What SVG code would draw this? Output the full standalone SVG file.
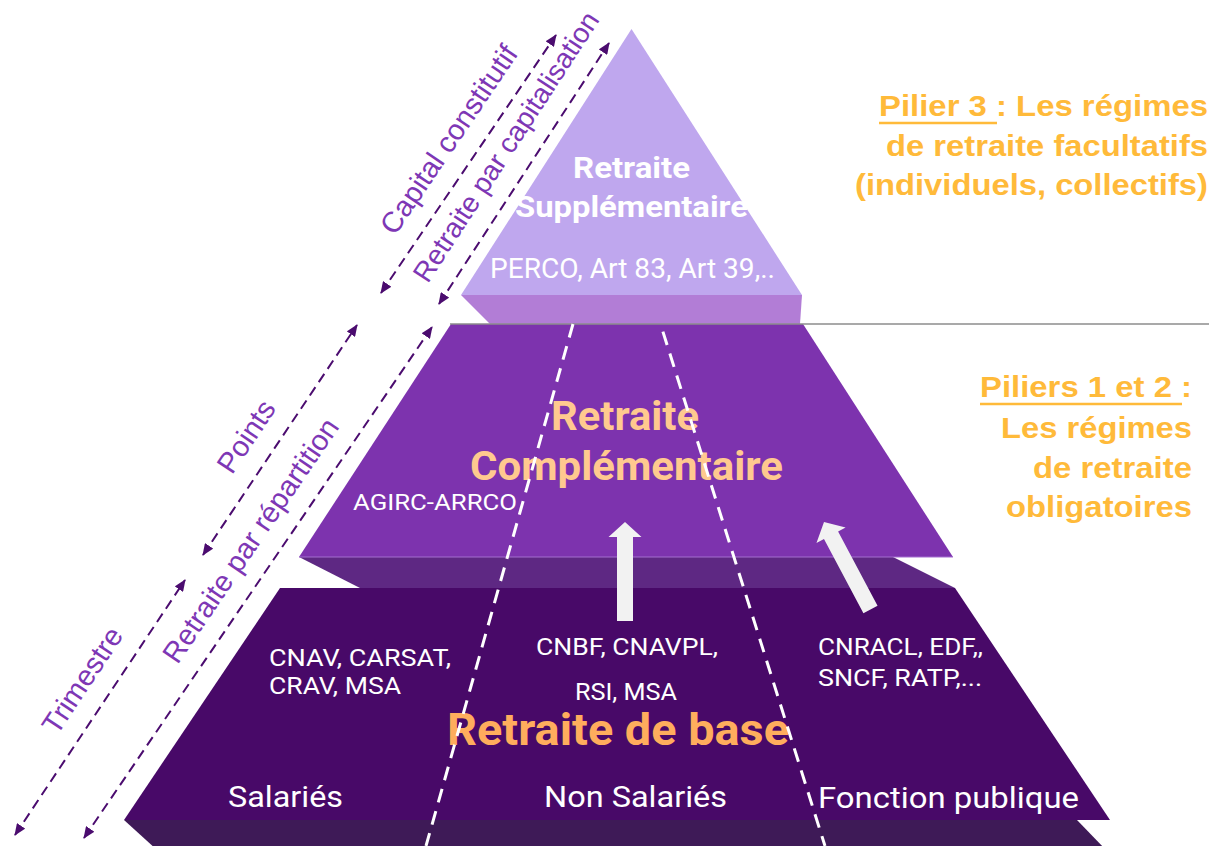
<svg xmlns="http://www.w3.org/2000/svg" width="1217" height="846" viewBox="0 0 1217 846">
  <style>
    .lbl { font-family: Roboto, "Liberation Sans", sans-serif; fill: #FFFFFF; }
    .bold { font-weight: 700; }
    .side { font-family: "Liberation Sans", Arial, sans-serif; font-weight: 700; font-size: 30px; fill: #FFBA3A; }
    .rot { font-family: "Liberation Sans", Arial, sans-serif; font-size: 29px; fill: #7E37B5; text-anchor: middle; }
    .dash { stroke: #4B0C6F; stroke-width: 2; stroke-dasharray: 10 6; fill: none; marker-start: url(#ah); marker-end: url(#ah); }
    .wdash { stroke: #FFFFFF; stroke-width: 3; stroke-dasharray: 14 9; fill: none; }
    .blk { fill: #F2F2F2; }
  </style>
  <defs>
    <marker id="ah" viewBox="0 0 12 10" refX="11" refY="5" markerWidth="12" markerHeight="10" markerUnits="userSpaceOnUse" orient="auto-start-reverse">
      <path d="M0,0 L12,5 L0,10 z" fill="#4B0C6F"/>
    </marker>
    <path id="blockArrow" d="M0,0 L16.5,15 L8,15 L8,99 L-8,99 L-8,15 L-16.5,15 Z"/>
  </defs>

  <rect width="1217" height="846" fill="#FFFFFF"/>

  <!-- Bottom tier: Retraite de base -->
  <g id="tier-base">
    <polygon points="124,820 1077,820 1106,850 157,850" fill="#3E1A57"/>
    <polygon points="280,588 955,588 1110,820 124,820" fill="#480968"/>
  </g>

  <!-- Middle tier: Retraite Complémentaire -->
  <g id="tier-complementaire">
    <polygon points="299,557 893,557 955,588 360,588" fill="#5E2883"/>
    <polygon points="451,324 803,324 953,557 299,557" fill="#7D33AE"/>
    <line x1="299" y1="557" x2="953" y2="557" stroke="#A46ECF" stroke-width="1.2"/>
  </g>

  <!-- Top tier: Retraite Supplémentaire -->
  <g id="tier-supplementaire">
    <polygon points="461,295 802,295 800,324 490,324" fill="#B27DD6"/>
    <polygon points="631.5,29 802,295 461,295" fill="#BFA7EE"/>
  </g>

  <line id="separator" x1="450" y1="324" x2="1209" y2="324" stroke="#8C8C8C" stroke-width="1.5"/>

  <!-- Tier texts -->
  <g id="text-supplementaire">
    <text class="lbl bold" x="573" y="178" font-size="30" textLength="117" lengthAdjust="spacingAndGlyphs">Retraite</text>
    <text class="lbl bold" x="515" y="217" font-size="30" textLength="233" lengthAdjust="spacingAndGlyphs">Supplémentaire</text>
    <text class="lbl" x="490" y="278" font-size="27" textLength="285" lengthAdjust="spacingAndGlyphs">PERCO, Art 83, Art 39,..</text>
  </g>
  <g id="text-complementaire">
    <text class="lbl bold" x="551" y="430" font-size="40" style="fill:#FFC98F" textLength="148" lengthAdjust="spacingAndGlyphs">Retraite</text>
    <text class="lbl bold" x="470" y="480" font-size="40" style="fill:#FFC98F" textLength="313" lengthAdjust="spacingAndGlyphs">Complémentaire</text>
    <text class="lbl" x="353" y="510" font-size="22" textLength="164" lengthAdjust="spacingAndGlyphs">AGIRC-ARRCO</text>
  </g>
  <g id="text-base">
    <text class="lbl" x="269" y="666" font-size="24" textLength="182" lengthAdjust="spacingAndGlyphs">CNAV, CARSAT,</text>
    <text class="lbl" x="269" y="694" font-size="24" textLength="132" lengthAdjust="spacingAndGlyphs">CRAV, MSA</text>
    <text class="lbl" x="536" y="655" font-size="24" textLength="182" lengthAdjust="spacingAndGlyphs">CNBF, CNAVPL,</text>
    <text class="lbl" x="575" y="700" font-size="24" textLength="102" lengthAdjust="spacingAndGlyphs">RSI, MSA</text>
    <text class="lbl" x="818" y="655" font-size="24" textLength="165" lengthAdjust="spacingAndGlyphs">CNRACL, EDF,,</text>
    <text class="lbl" x="818" y="686" font-size="24" textLength="164" lengthAdjust="spacingAndGlyphs">SNCF, RATP,...</text>
    <text class="lbl bold" x="447" y="745" font-size="44" style="fill:#FFAD5D" textLength="342" lengthAdjust="spacingAndGlyphs">Retraite de base</text>
    <text class="lbl" x="228" y="807" font-size="29" textLength="115" lengthAdjust="spacingAndGlyphs">Salariés</text>
    <text class="lbl" x="544" y="807" font-size="29" textLength="183" lengthAdjust="spacingAndGlyphs">Non Salariés</text>
    <text class="lbl" x="818" y="808" font-size="29" textLength="261" lengthAdjust="spacingAndGlyphs">Fonction publique</text>
  </g>

  <!-- Connectors -->
  <g id="connectors">
    <line class="wdash" x1="573" y1="324" x2="426" y2="846"/>
    <line class="wdash" x1="660.5" y1="324" x2="825" y2="846" stroke-dashoffset="-8"/>
    <use href="#blockArrow" class="blk" transform="translate(625,522)"/>
    <use href="#blockArrow" class="blk" transform="translate(824,522) rotate(-28)"/>
    <line class="dash" x1="381" y1="293" x2="556" y2="35"/>
    <line class="dash" x1="439" y1="304" x2="609" y2="43"/>
    <line class="dash" x1="203" y1="555" x2="357" y2="325"/>
    <line class="dash" x1="84" y1="838" x2="432" y2="327"/>
    <line class="dash" x1="15" y1="835" x2="185" y2="580"/>
  </g>

  <!-- Rotated labels -->
  <g id="label-capital">
    <text class="rot" transform="translate(457,145) rotate(-55.9)">Capital constitutif</text>
  </g>
  <g id="label-capitalisation">
    <text class="rot" font-size="28" style="font-size:28px" transform="translate(514,152) rotate(-56.9)">Retraite par capitalisation</text>
  </g>
  <g id="label-points">
    <text class="rot" transform="translate(254.5,442) rotate(-56.2)">Points</text>
  </g>
  <g id="label-repartition">
    <text class="rot" transform="translate(258.7,546) rotate(-55.7)">Retraite par répartition</text>
  </g>
  <g id="label-trimestre">
    <text class="rot" transform="translate(90.6,685.7) rotate(-56.3)">Trimestre</text>
  </g>

  <!-- Side legends -->
  <g id="legend-pilier3">
    <text class="side" x="879" y="116" textLength="329" lengthAdjust="spacingAndGlyphs">Pilier 3 : Les régimes</text>
    <line x1="879" y1="123" x2="997" y2="123" stroke="#FFBA3A" stroke-width="2.5"/>
    <text class="side" x="886" y="156" textLength="322" lengthAdjust="spacingAndGlyphs">de retraite facultatifs</text>
    <text class="side" x="855" y="195" textLength="353" lengthAdjust="spacingAndGlyphs">(individuels, collectifs)</text>
  </g>
  <g id="legend-piliers12">
    <text class="side" x="980" y="397" textLength="212" lengthAdjust="spacingAndGlyphs">Piliers 1 et 2 :</text>
    <line x1="980" y1="404" x2="1182" y2="404" stroke="#FFBA3A" stroke-width="2.5"/>
    <text class="side" x="1001" y="438" textLength="191" lengthAdjust="spacingAndGlyphs">Les régimes</text>
    <text class="side" x="1033" y="478" textLength="159" lengthAdjust="spacingAndGlyphs">de retraite</text>
    <text class="side" x="1006" y="517" textLength="186" lengthAdjust="spacingAndGlyphs">obligatoires</text>
  </g>
</svg>
